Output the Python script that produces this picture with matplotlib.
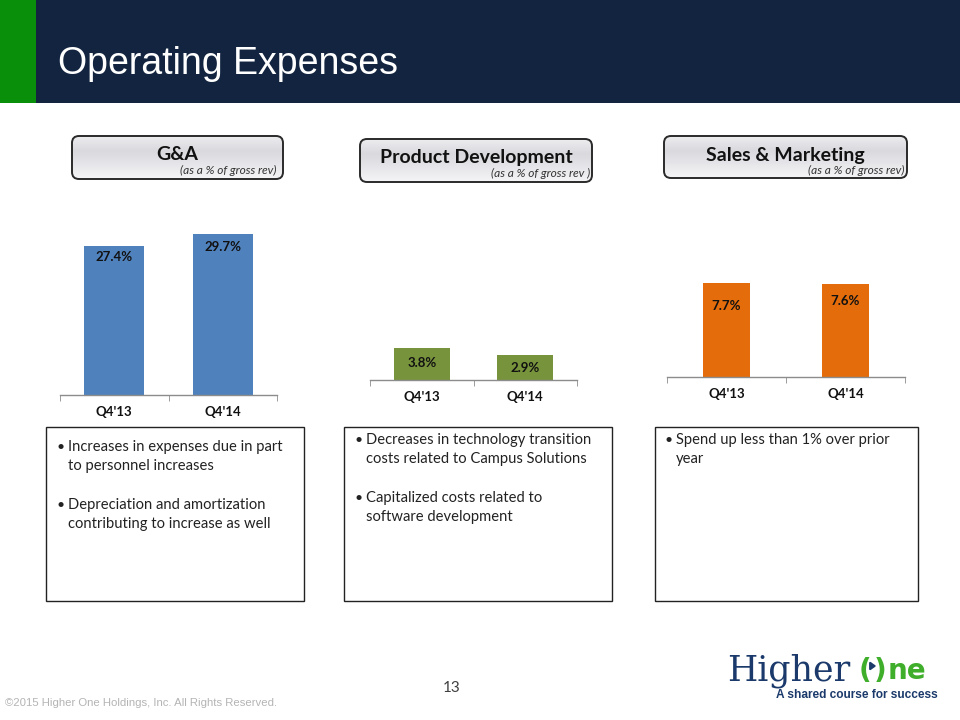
import matplotlib
matplotlib.use("Agg")
import matplotlib.pyplot as plt
import numpy as np
from matplotlib.patches import FancyBboxPatch, Rectangle, FancyArrowPatch

# ---------------- data ----------------
categories = ["Q4'13", "Q4'14"]
ga_values = [27.4, 29.7]
pd_values = [3.8, 2.9]
sm_values = [7.7, 7.6]

panel_titles = ["G&A", "Product Development", "Sales & Marketing"]
panel_subtitles = ["(as a % of gross rev)", "(as a % of gross rev )", "(as a % of gross rev)"]

ga_bullets = [["Increases in expenses due in part", "to personnel increases"],
              ["Depreciation and amortization", "contributing to increase as well"]]
pd_bullets = [["Decreases in technology transition", "costs related to Campus Solutions"],
              ["Capitalized costs related to", "software development"]]
sm_bullets = [["Spend up less than 1% over prior", "year"]]

slide_title = "Operating Expenses"
copyright_text = "\u00a92015 Higher One Holdings, Inc. All Rights Reserved."
page_number = "13"

# ---------------- layout ----------------
W, H = 960, 720
fig = plt.figure(figsize=(9.6, 7.2), dpi=100)
fig.patch.set_facecolor("white")

def rect(x0, y0, x1, y1):
    return [x0 / W, 1 - y1 / H, (x1 - x0) / W, (y1 - y0) / H]

SANS = ["Lato", "DejaVu Sans"]
NAVY = "#12243f"

# background / decoration axes in pixel coordinates
bg = fig.add_axes([0, 0, 1, 1], zorder=0)
bg.set_xlim(0, W)
bg.set_ylim(H, 0)
bg.axis("off")

bg.add_patch(Rectangle((0, 0), W, 103, facecolor=NAVY, edgecolor="none"))
bg.add_patch(Rectangle((0, 0), 36, 103, facecolor="#0a8f0a", edgecolor="none"))
bg.text(58, 64, slide_title, color="white", fontsize=27, family="Liberation Sans",
        va="center", ha="left")

# pills
pills = [(72, 136, 283, 179, 177, 155, 277, 170),
         (360, 139, 592, 182, 476, 158, 590, 173),
         (664, 136, 907, 178, 785, 155, 905, 170)]
t = np.linspace(0, 1, 100)
top_c = np.array([0.93, 0.93, 0.94])
mid_c = np.array([0.85, 0.85, 0.87])
bot_c = np.array([0.96, 0.96, 0.97])
grad_rgb = np.where(t[:, None] < 0.35,
                    top_c + (mid_c - top_c) * (t[:, None] / 0.35),
                    mid_c + (bot_c - mid_c) * ((t[:, None] - 0.35) / 0.65))
grad_img = np.repeat(grad_rgb[:, None, :], 2, axis=1)
for (x0, y0, x1, y1, tx, ty, sx, sy), title, sub in zip(pills, panel_titles, panel_subtitles):
    p = FancyBboxPatch((x0, y0), x1 - x0, y1 - y0,
                       boxstyle="round,pad=0,rounding_size=7",
                       facecolor="none", edgecolor="#2a2a2a", linewidth=1.4, zorder=3)
    bg.add_patch(p)
    clip = FancyBboxPatch((x0, y0), x1 - x0, y1 - y0,
                          boxstyle="round,pad=0,rounding_size=7",
                          facecolor="none", edgecolor="none")
    bg.add_patch(clip)
    im = bg.imshow(grad_img, extent=(x0, x1, y1, y0), aspect="auto", zorder=2,
                   interpolation="bilinear")
    im.set_clip_path(clip)
    bg.text(tx, ty, title, fontsize=14, fontweight="bold", family=SANS,
            ha="center", va="center", color="#111111", zorder=4)
    bg.text(sx, sy, sub, fontsize=8.6, style="italic", family=SANS,
            ha="right", va="center", color="#333333", zorder=4)
bg.set_xlim(0, W)
bg.set_ylim(H, 0)

# text boxes with bullets
boxes = [(46, 427, 304, 601, 57, 68, 447, ga_bullets),
         (344, 427, 612, 601, 354, 366, 440, pd_bullets),
         (655, 427, 918, 601, 664, 676, 440, sm_bullets)]
LINE = 19.3
for x0, y0, x1, y1, bx, tx, ty, bullets in boxes:
    bg.add_patch(Rectangle((x0, y0), x1 - x0, y1 - y0, facecolor="white",
                           edgecolor="#222222", linewidth=1.0, zorder=1))
    y = ty
    for lines in bullets:
        bg.text(bx, y, "\u2022", fontsize=10, family=SANS, ha="left", va="center",
                color="#222222", zorder=4)
        for ln in lines:
            bg.text(tx, y, ln, fontsize=10.6, family=SANS, ha="left", va="center",
                    color="#222222", zorder=4)
            y += LINE
        y += LINE

# footer
bg.text(5, 703, copyright_text, fontsize=8.2, family="Liberation Sans",
        color="#b4b4b4", ha="left", va="center")
bg.text(452, 688, page_number, fontsize=11, family=SANS, color="#404040",
        ha="center", va="center")

# logo
LOGO_NAVY = "#1b3a6b"
LOGO_GREEN = "#3fae2a"
bg.text(727, 680, "Higher", fontsize=25, family="DejaVu Serif", color=LOGO_NAVY,
        ha="left", va="baseline")
bg.text(859, 679, "(", fontsize=20, fontweight="bold", family="DejaVu Sans",
        color=LOGO_GREEN, ha="left", va="baseline")
bg.text(874, 679, ")", fontsize=20, fontweight="bold", family="DejaVu Sans",
        color=LOGO_GREEN, ha="left", va="baseline")
bg.add_patch(FancyArrowPatch((869, 666), (879, 666),
                             arrowstyle="-|>,head_length=3,head_width=2.2",
                             color=LOGO_NAVY, linewidth=1.6, mutation_scale=1, zorder=5))
bg.text(888, 679, "ne", fontsize=20, fontweight="bold", family="DejaVu Sans",
        color=LOGO_GREEN, ha="left", va="baseline")
bg.text(938, 695, "A shared course for success", fontsize=8.6, fontweight="bold",
        family="Liberation Sans", color=LOGO_NAVY, ha="right", va="center")

# ---------------- charts ----------------
charts = [
    dict(vals=ga_values, color="#4f81bd", box=(60, 221, 277, 395), ylim=32,
         width=0.55, offsets=[-8, -10]),
    dict(vals=pd_values, color="#77933c", box=(370, 329, 577, 380), ylim=6.0,
         width=0.54, offsets=[-11, -9]),
    dict(vals=sm_values, color="#e46c0a", box=(667, 267, 905, 377), ylim=9.0,
         width=0.40, offsets=[-17, -12]),
]
x = np.arange(len(categories))
for c in charts:
    ax = fig.add_axes(rect(*c["box"]), zorder=5)
    ax.patch.set_alpha(0)
    ax.bar(x, c["vals"], width=c["width"], color=c["color"], edgecolor="none")
    ax.set_xlim(-0.5, len(categories) - 0.5)
    ax.set_ylim(0, c["ylim"])
    for s in ["top", "right", "left"]:
        ax.spines[s].set_visible(False)
    ax.spines["bottom"].set_color("#8c8c8c")
    ax.spines["bottom"].set_linewidth(1.0)
    ax.set_yticks([])
    ax.set_xticks(x)
    ax.set_xticklabels(categories, fontsize=9.5, fontweight="bold", family=SANS,
                       color="#111111")
    ax.tick_params(axis="x", which="major", length=0, pad=8)
    ax.set_xticks(np.arange(-0.5, len(categories)), minor=True)
    ax.tick_params(axis="x", which="minor", length=4, color="#8c8c8c", direction="out")
    for xi, v, off in zip(x, c["vals"], c["offsets"]):
        ax.annotate(f"{v:.1f}%", (xi, v), xytext=(0, off), textcoords="offset points",
                    ha="center", va="center", fontsize=9.5, fontweight="bold",
                    family=SANS, color="#111111")

fig.savefig("out.png", dpi=100, facecolor="white")
